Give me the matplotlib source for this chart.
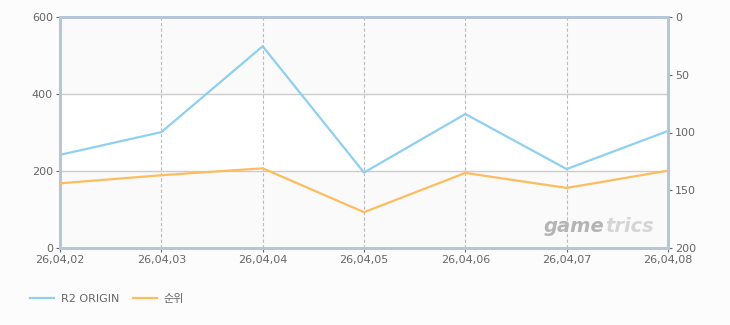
import numpy as np
import matplotlib
matplotlib.use('Agg')
import matplotlib.pyplot as plt

plt.rcParams['font.family'] = ['DejaVu Sans', 'Noto Sans CJK KR']

dates = ['26,04,02', '26,04,03', '26,04,04', '26,04,05', '26,04,06', '26,04,07', '26,04,08']
r2_origin = [242, 301, 524, 196, 348, 205, 304]
rank = [144, 137, 131, 169, 135, 148, 133]

x = np.arange(len(dates))
blue = '#8fcff0'
orange = '#fdbd5f'
spine_col = '#b4c6d8'
txt = '#666666'

fig = plt.figure(figsize=(7.3, 3.25), dpi=100, facecolor='#fcfcfc')
ax = fig.add_axes([60/730, 77/325, 608/730, 231/325])
ax.set_facecolor('white')
ax.axhspan(0, 200, color='#fafafa', zorder=0)
ax.axhspan(400, 600, color='#fafafa', zorder=0)

ax.set_xlim(0, len(dates) - 1)
ax.set_ylim(0, 600)
ax.set_yticks([0, 200, 400, 600])
ax.set_xticks(x)
ax.set_xticklabels(dates)

for yv in [200, 400]:
    ax.axhline(yv, color='#cccccc', lw=1, zorder=1)
for xv in x[1:-1]:
    ax.axvline(xv, color='#bbbbbb', lw=0.8, ls=(0, (3, 2)), zorder=1)

ax2 = ax.twinx()
ax2.set_ylim(200, 0)
ax2.set_yticks([0, 50, 100, 150, 200])

ax.plot(x, r2_origin, color=blue, lw=1.6, zorder=3, label='R2 ORIGIN')
ax2.plot(x, rank, color=orange, lw=1.6, zorder=3, label='순위')

for a in (ax, ax2):
    for s in a.spines.values():
        s.set_color(spine_col)
        s.set_linewidth(2)
    a.tick_params(colors=txt, labelsize=8, length=3, width=0.8, pad=2)

# watermark
ax.text(0.896, 0.095, 'game', transform=ax.transAxes, ha='right', va='center',
        fontsize=14, fontweight='bold', style='italic', color='#b5b5b5', zorder=2)
ax.text(0.896, 0.095, 'trics', transform=ax.transAxes, ha='left', va='center',
        fontsize=14, fontweight='bold', style='italic', color='#d5d5d5', zorder=2)

h1, l1 = ax.get_legend_handles_labels()
h2, l2 = ax2.get_legend_handles_labels()
fig.legend(h1 + h2, l1 + l2, loc='center left', bbox_to_anchor=(20/730, 1 - 299/325),
           ncol=2, frameon=False, fontsize=8, handlelength=2.2, columnspacing=1.2,
           labelcolor=txt, handletextpad=0.6)

fig.savefig('out.png', dpi=100, facecolor=fig.get_facecolor())
